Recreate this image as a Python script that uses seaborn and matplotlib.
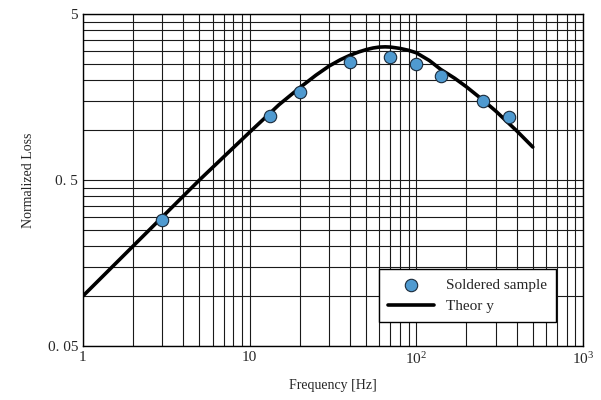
# loss vs frequency, log-log with dense grid

import numpy as np
import pandas as pd
import seaborn as sns
import matplotlib
matplotlib.use("Agg")
import matplotlib.pyplot as plt
from matplotlib.ticker import FixedLocator, NullFormatter

# measured points
meas_freq = [3, 13.2, 20, 40, 70, 100, 140, 250, 360]
meas_loss = [0.287, 1.22, 1.69, 2.57, 2.75, 2.51, 2.12, 1.50, 1.20]

# theory curve
theory_freq = [1, 2, 3, 5, 7, 10, 15, 20, 25, 30, 35, 40, 45, 50, 55, 60, 65, 70, 75, 80, 90,
               100, 120, 140, 170, 200, 250, 300, 400, 500]
theory_loss = [0.1, 0.2, 0.3, 0.5, 0.69, 0.97, 1.42, 1.8, 2.14, 2.43, 2.65, 2.82, 2.95, 3.05,
               3.12, 3.16, 3.17, 3.16, 3.13, 3.1, 3.02, 2.92, 2.62, 2.32, 2.05, 1.82, 1.52,
               1.3, 0.99, 0.79]

x_ticks = [1, 10, 100, 1000]
x_labels = ["1", "10", "$10^2$", "$10^3$"]
y_ticks = [0.05, 0.5, 5]
y_labels = ["0. 05", "0. 5", "5"]

meas = pd.DataFrame({"freq": meas_freq, "loss": meas_loss})
theory = pd.DataFrame({"freq": theory_freq, "loss": theory_loss})

sns.set_style("white")
plt.rcParams["font.family"] = ["Liberation Serif", "DejaVu Serif"]
plt.rcParams["mathtext.fontset"] = "custom"
plt.rcParams["mathtext.rm"] = "Liberation Serif"
plt.rcParams["mathtext.it"] = "Liberation Serif:italic"

fig = plt.figure(figsize=(6.01, 4.0), dpi=100)
ax = fig.add_axes([0.138, 0.135, 0.832, 0.83])

sns.lineplot(data=theory, x="freq", y="loss", ax=ax, color="black", linewidth=2.6,
             label="Theor y", zorder=3)
sns.scatterplot(data=meas, x="freq", y="loss", ax=ax, color="#4f9ad0", edgecolor="#1a2a3a",
                linewidth=0.8, s=80, label="Soldered sample", zorder=4)

ax.set_xscale("log")
ax.set_yscale("log")
ax.set_xlim(1, 1000)
ax.set_ylim(0.05, 5)

ax.xaxis.set_major_locator(FixedLocator(x_ticks))
ax.set_xticklabels(x_labels)
x_minor = [m * d for d in [1, 10, 100] for m in range(2, 10)]
ax.xaxis.set_minor_locator(FixedLocator(x_minor))
ax.xaxis.set_minor_formatter(NullFormatter())

ax.yaxis.set_major_locator(FixedLocator(y_ticks))
ax.set_yticklabels(y_labels)
y_minor = [m * d for d in [0.05, 0.5] for m in range(2, 10)]
ax.yaxis.set_minor_locator(FixedLocator(y_minor))
ax.yaxis.set_minor_formatter(NullFormatter())

ax.grid(True, which="both", color="#1a1a1a", linewidth=0.8)
ax.tick_params(which="both", direction="in", labelsize=11, length=4, color="black")
ax.tick_params(which="minor", length=3)
for s in ax.spines.values():
    s.set_color("black")
    s.set_linewidth(1.0)

ax.set_xlabel("Frequency [Hz]", fontsize=10, labelpad=9)
ax.set_ylabel("Normalized Loss", fontsize=10, labelpad=9)

h, l = ax.get_legend_handles_labels()
leg = ax.legend(h[::-1], l[::-1], loc="lower right", bbox_to_anchor=(0.962, 0.048),
                fontsize=11, frameon=True, fancybox=False, framealpha=1,
                edgecolor="black", handlelength=3, borderpad=0.6)
leg.get_frame().set_linewidth(1.0)

fig.savefig("out.png", dpi=100)
